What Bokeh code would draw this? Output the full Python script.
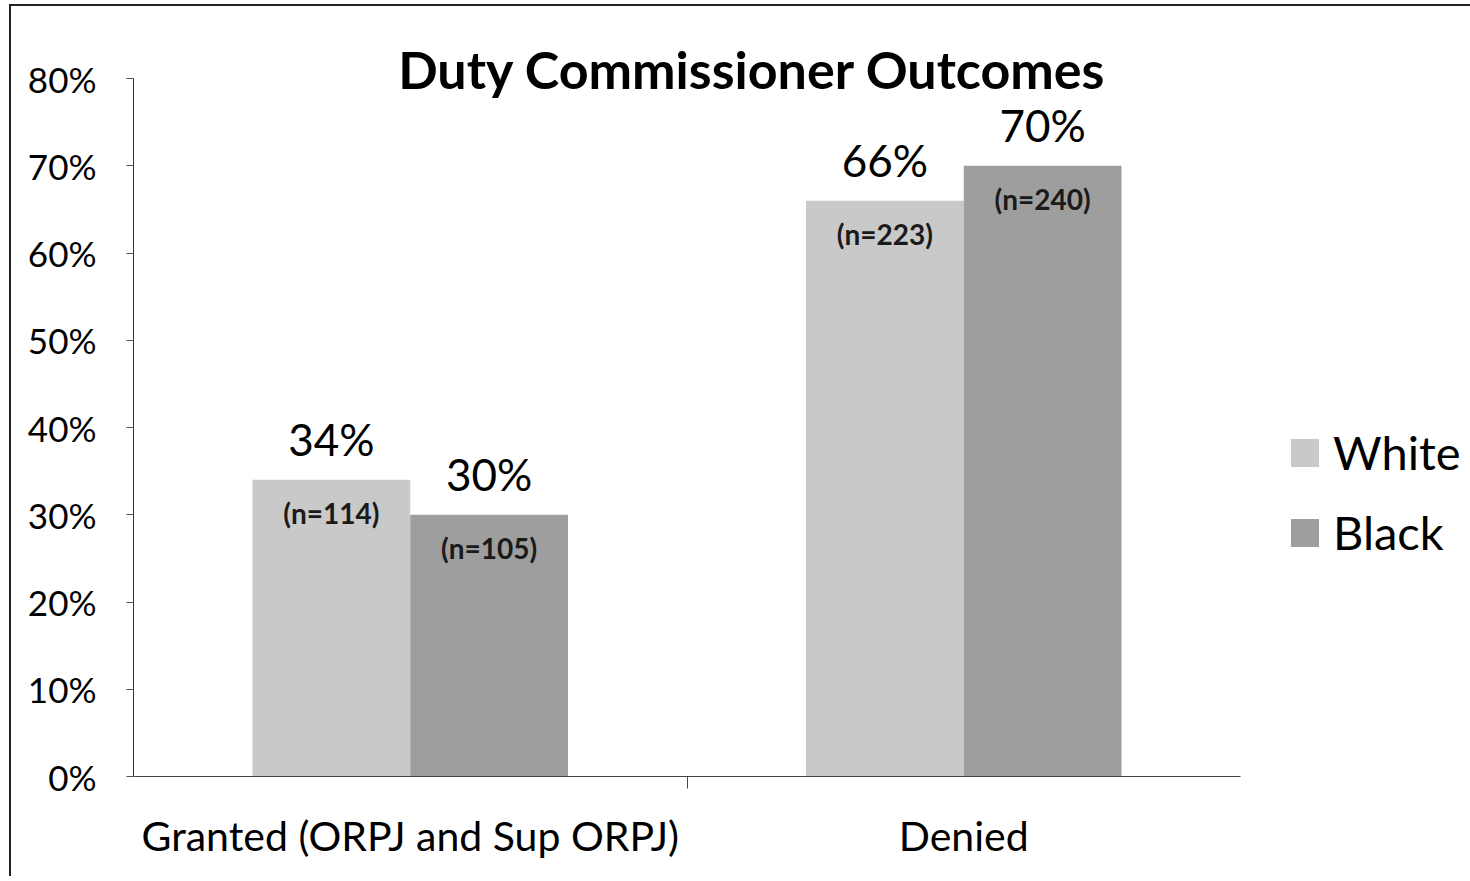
from bokeh.plotting import figure
from bokeh.models import (FactorRange, Range1d, CategoricalAxis, FixedTicker,
                          NumeralTickFormatter, Label, Legend, LegendItem, ColumnDataSource)
from bokeh.transform import dodge
from bokeh.core.properties import value
from bokeh.embed import file_html
from bokeh.resources import INLINE

# ---- data ----
categories = ["Granted (ORPJ and Sup ORPJ)", "Denied"]
white_share = [0.34, 0.66]
black_share = [0.30, 0.70]
white_n = [114, 223]
black_n = [105, 240]
series_names = ["White", "Black"]
y_ticks = [0, 0.1, 0.2, 0.3, 0.4, 0.5, 0.6, 0.7, 0.8]
title_text = "Duty Commissioner Outcomes"

FONT = "Lato"
WHITE_COLOR = "#c9c9c9"
BLACK_COLOR = "#9e9e9e"
BAR_W = 0.285

# layout (pixels)
FRAME_W = 1107
AXIS_PX = 698           # height of the 0..80% axis
FRAME_H = 738           # frame extends above 80% to hold the title
Y_MAX = 0.8 * FRAME_H / AXIS_PX

src = ColumnDataSource(dict(
    cat=categories,
    white=white_share,
    black=black_share,
    white_pct=[f"{round(v*100)}%" for v in white_share],
    black_pct=[f"{round(v*100)}%" for v in black_share],
    white_nlab=[f"(n={n})" for n in white_n],
    black_nlab=[f"(n={n})" for n in black_n],
))

p = figure(x_range=FactorRange(*categories), y_range=Range1d(0, Y_MAX),
           frame_width=FRAME_W, frame_height=FRAME_H,
           min_border_left=122, min_border_right=225, min_border_top=32, min_border_bottom=100,
           output_backend="svg", toolbar_location=None, x_axis_location=None,
           background_fill_color="white", border_fill_color="white")
p.styles = {"margin-left": "9px", "margin-top": "4px",
            "border-left": "2px solid #222222", "border-top": "2px solid #222222"}
p.outline_line_color = None
p.xgrid.grid_line_color = None
p.ygrid.grid_line_color = None

# y axis
ya = p.yaxis[0]
ya.bounds = (0, 0.8)
ya.ticker = FixedTicker(ticks=y_ticks)
ya.formatter = NumeralTickFormatter(format="0%")
ya.major_label_text_font = FONT
ya.major_label_text_font_size = "35px"
ya.major_label_text_color = "black"
ya.major_tick_in = 0
ya.major_tick_out = 7
ya.minor_tick_line_color = None
ya.axis_line_color = "#333333"
ya.major_tick_line_color = "#555555"
ya.major_label_standoff = 30

# x axis: tick marks at the category boundaries (helper categorical range)
edge_factors = ["e%d" % i for i in range(len(categories) + 1)]
p.extra_x_ranges = {"edges": FactorRange(*edge_factors, range_padding=-0.99,
                                         range_padding_units="absolute")}
tick_axis = CategoricalAxis(x_range_name="edges",
                            major_label_text_alpha=0, major_label_text_font_size="1px",
                            major_tick_in=0, major_tick_out=12, minor_tick_line_color=None,
                            axis_line_color="#444444", major_tick_line_color="#444444",
                            major_label_standoff=0)
p.add_layout(tick_axis, "below")
cat_axis = CategoricalAxis(axis_line_color=None, major_tick_line_color=None,
                           minor_tick_line_color=None,
                           major_label_text_font=FONT, major_label_text_font_size="41px",
                           major_label_text_color="black", major_label_standoff=16)
p.add_layout(cat_axis, "below")

# bars
wr = p.vbar(x=dodge("cat", -BAR_W / 2, range=p.x_range), top="white", width=BAR_W,
            source=src, fill_color=WHITE_COLOR, line_color=None)
br = p.vbar(x=dodge("cat", BAR_W / 2, range=p.x_range), top="black", width=BAR_W,
            source=src, fill_color=BLACK_COLOR, line_color=None)

# value labels
for col, pct, nlab, off in [("white", "white_pct", "white_nlab", -BAR_W / 2),
                            ("black", "black_pct", "black_nlab", BAR_W / 2)]:
    p.text(x=dodge("cat", off, range=p.x_range), y=col, text=pct, source=src,
           text_font=value(FONT), text_font_size="44px", text_color="black",
           text_align="center", text_baseline="middle", y_offset=-41)
    p.text(x=dodge("cat", off, range=p.x_range), y=col, text=nlab, source=src,
           text_font=value(FONT), text_font_size="28px", text_font_style="bold",
           text_color="#1a1a1a", text_align="center", text_baseline="middle", y_offset=33)

# title
p.add_layout(Label(x=619, y=708, x_units="screen", y_units="screen", text=title_text,
                   text_font=FONT, text_font_size="52px", text_font_style="bold",
                   text_color="black", text_align="center", text_baseline="middle"))

# legend
legend = Legend(items=[LegendItem(label=series_names[0], renderers=[wr]),
                       LegendItem(label=series_names[1], renderers=[br])],
                location=(47, 216), orientation="vertical",
                glyph_width=35, glyph_height=35, label_standoff=11,
                label_text_font=FONT, label_text_font_size="47px", label_text_color="black",
                label_height=56, spacing=24, padding=0, margin=0,
                border_line_color=None, background_fill_alpha=0)
p.add_layout(legend, "right")

open("out.html", "w").write(file_html(p, INLINE))
